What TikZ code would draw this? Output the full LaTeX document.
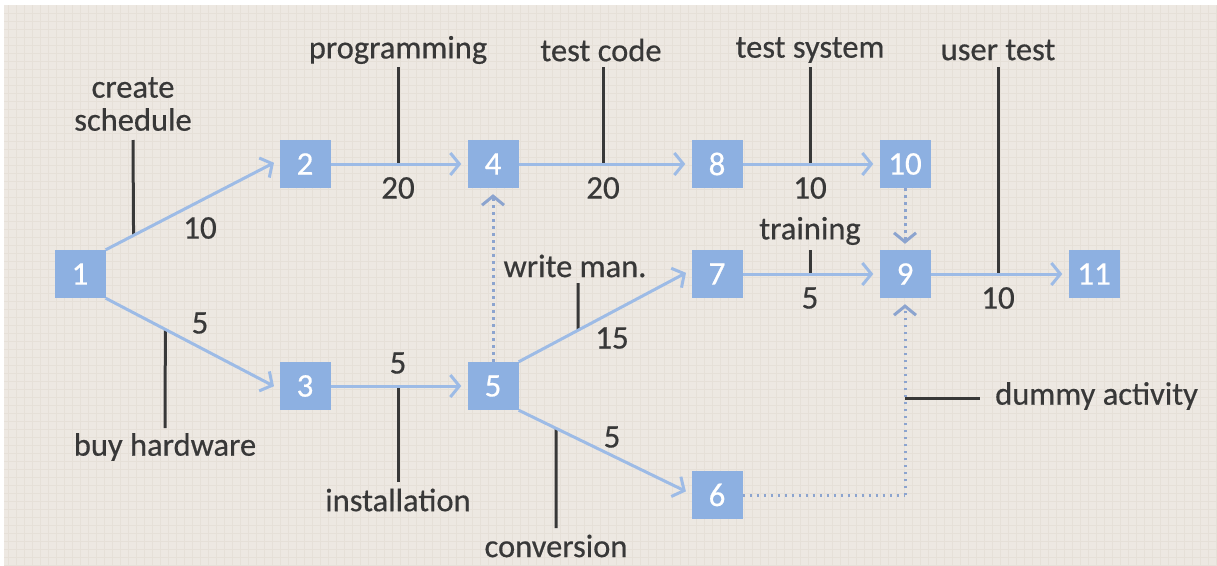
\documentclass[tikz,border=0pt]{standalone}
\usepackage{fontspec}
\setmainfont{Carlito}[FakeBold=0.5]
\usetikzlibrary{arrows.meta,calc}
\definecolor{bg}{HTML}{EDE8E2}
\definecolor{gridc}{HTML}{E6E0D8}
\definecolor{boxc}{HTML}{8DB0E1}
\definecolor{arrc}{HTML}{9DBBE6}
\definecolor{dotc}{HTML}{8CA4CF}
\definecolor{txt}{HTML}{383838}
\begin{document}
\begin{tikzpicture}[x=1pt,y=-1pt,
  ev/.style={fill=boxc, minimum width=51pt, minimum height=48pt, inner sep=0pt, text=white, font=\fontsize{33}{36}\selectfont},
  act/.style={draw=arrc, line width=3pt, shorten >=6pt, -{Straight Barb[length=9pt,width=22pt]}},
  dum/.style={draw=dotc, line width=3pt, dash pattern=on 2.5pt off 4.5pt, shorten >=6pt, -{Straight Barb[length=9pt,width=22pt]}},
  dumline/.style={draw=dotc, line width=3pt, dash pattern=on 2.5pt off 4.5pt},
  call/.style={draw=txt, line width=3pt},
  lab/.style={text=txt, inner sep=0pt, align=center, font=\fontsize{32.5}{33}\selectfont},
  num/.style={text=txt, inner sep=0pt, font=\fontsize{33}{36}\selectfont}]
\useasboundingbox (0,0) rectangle (1217,565);
\fill[white] (0,0) rectangle (1217,565);
\fill[bg] (4,5) rectangle (1217,565);
\foreach \gx in {8,16,...,1216} \draw[gridc, line width=0.6pt] (\gx,5) -- (\gx,565);
\foreach \gy in {13,21,...,565} \draw[gridc, line width=0.6pt] (4,\gy) -- (1217,\gy);

% events
\node[ev] (n1) at (80,274) {1};
\node[ev] (n2) at (305,164) {2};
\node[ev] (n4) at (493,164) {4};
\node[ev] (n8) at (717,164) {8};
\node[ev] (n10) at (905,164) {10};
\node[ev] (n7) at (717,274) {7};
\node[ev] (n9) at (905,274) {9};
\node[ev] (n11) at (1094,274) {11};
\node[ev] (n3) at (305,386) {3};
\node[ev] (n5) at (493,386) {5};
\node[ev] (n6) at (717,495) {6};

% activity texts
\node[lab] (tcs) at (133,104) {create\\schedule};
\node[lab] (tbh) at (165,447) {buy hardware};
\node[lab] (tpr) at (398,50) {programming};
\node[lab] (tin) at (398,500) {installation};
\node[lab] (ttc) at (601,50) {test code};
\node[lab] (tts) at (810,50) {test system};
\node[lab] (tut) at (998,50) {user test};
\node[lab] (ttr) at (810,231) {training};
\node[lab] (twm) at (575,266) {write man.};
\node[lab] (tcv) at (556,546) {conversion};
\node[lab, anchor=west] (tda) at (995,396) {dummy activity};

% durations
\node[num] (d12) at (200,228) {10};
\node[num] (d13) at (200,323) {5};
\node[num] (d24) at (398,188) {20};
\node[num] (d35) at (398,363) {5};
\node[num] (d48) at (603,188) {20};
\node[num] (d810) at (810,188) {10};
\node[num] (d57) at (612,338) {15};
\node[num] (d56) at (612,437) {5};
\node[num] (d79) at (810,298) {5};
\node[num] (d911) at (998,298) {10};

% callout coordinates
\coordinate (ccs) at (133,140);
\coordinate (cbh) at (165,428);
\coordinate (cpr) at (398,67);
\coordinate (cin) at (398,482);
\coordinate (ctc) at (603,67);
\coordinate (cts) at (810,67);
\coordinate (cut) at (998,67);
\coordinate (ctr) at (810,250);
\coordinate (cwm) at (578,283);
\coordinate (ccv) at (556,528);
\coordinate (cda) at (980,398);

% edge points met by callouts
\path ($(n1.north east)!{(133-105)/(279.5-105)}!([yshift=4pt]n2.west)$) coordinate (e12);
\path ($(n1.south east)!{(165-105)/(279.5-105)}!([yshift=-3pt]n3.west)$) coordinate (e13);
\path ($(n5.north east)!{(578-518.5)/(691.5-518.5)}!([yshift=4pt]n7.west)$) coordinate (e57);
\path ($(n5.south east)!{(556-518.5)/(691.5-518.5)}!([yshift=1pt]n6.west)$) coordinate (e56);
\coordinate (e24) at (398,164);
\coordinate (e35) at (398,386);
\coordinate (e48) at (603,164);
\coordinate (e810) at (810,164);
\coordinate (e79) at (810,274);
\coordinate (e911) at (998,274);
\coordinate (eda) at (905,398);

\draw[call] (ccs) -- (e12);
\draw[call] (cbh) -- (e13);
\draw[call] (cpr) -- (e24);
\draw[call] (cin) -- (e35);
\draw[call] (ctc) -- (e48);
\draw[call] (cts) -- (e810);
\draw[call] (cut) -- (e911);
\draw[call] (ctr) -- (e79);
\draw[call] (cwm) -- (e57);
\draw[call] (ccv) -- (e56);
\draw[call] (eda) -- (cda);

% activities
\draw[act] (n1.north east) -- ([yshift=4pt]n2.west);
\draw[act] (n1.south east) -- ([yshift=-3pt]n3.west);
\draw[act] (n2) -- (n4);
\draw[act] (n3) -- (n5);
\draw[act] (n4) -- (n8);
\draw[act] (n8) -- (n10);
\draw[act] (n5.north east) -- ([yshift=4pt]n7.west);
\draw[act] (n5.south east) -- ([yshift=1pt]n6.west);
\draw[act] (n7) -- (n9);
\draw[act] (n9) -- (n11);

% dummies
\draw[dum] (n5.north) -- (n4.south);
\draw[dum] (n10.south) -- (n9.north);
\draw[dumline] (n6.east) -- (n6.east -| n9);
\draw[dum] (n6.east -| n9) -- (n9.south);
\end{tikzpicture}
\end{document}
